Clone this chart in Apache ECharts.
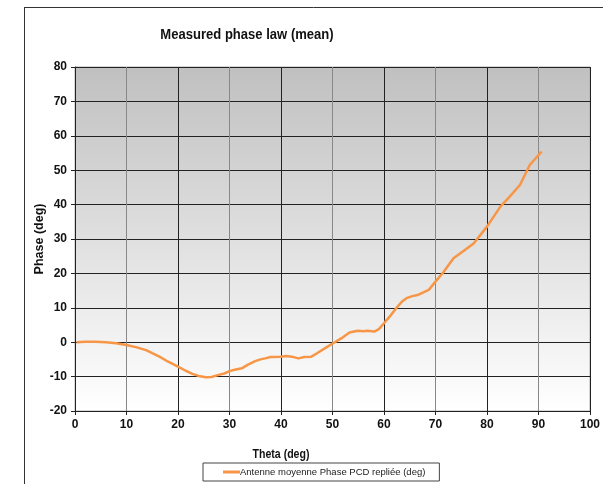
<!DOCTYPE html>
<html>
<head>
<meta charset="utf-8">
<script src="https://cdn.jsdelivr.net/npm/echarts@6/dist/echarts.min.js"></script>
<style>
  html, body { margin: 0; padding: 0; background: #ffffff; }
  #chart { width: 603px; height: 484px; }
</style>
</head>
<body>
<div id="chart"></div>
<script>
// Mean measured phase (deg) versus theta (deg)
const theta = [0.3, 2, 4, 6, 8, 10, 12, 13.8, 15, 16.4, 18, 20, 21.5, 22.8, 24, 25.4, 26.5, 27.9, 29, 30,
  31, 32.4, 33.5, 35, 36, 36.9, 38, 40, 41, 42.1, 43.4, 44.5, 45.9, 47, 48.5, 50.1, 51.7, 53.3, 54.9, 56,
  56.8, 58.1, 59, 60, 61.3, 62.6, 63.5, 64.5, 65.5, 66.5, 68.7, 70, 71.6, 73.5, 75.5, 77.4, 80, 82.6, 84.1,
  86.4, 88.3, 89.6, 90.6];
const phase = [0, 0.1, 0.1, 0, -0.3, -0.8, -1.5, -2.3, -3.2, -4.2, -5.6, -7.1, -8.3, -9.2, -9.8, -10.2, -10.1, -9.5, -9.1, -8.4,
  -8.0, -7.6, -6.6, -5.5, -5.0, -4.7, -4.3, -4.2, -4.0, -4.2, -4.7, -4.3, -4.2, -3.2, -1.8, -0.3, 1.1, 2.8, 3.3, 3.2,
  3.3, 3.1, 3.8, 5.5, 7.8, 10.3, 11.8, 12.9, 13.4, 13.7, 15.2, 17.6, 20.5, 24.4, 26.6, 28.7, 33.6, 39.4, 41.8,
  45.7, 51.5, 53.7, 55.4];
const seriesName = 'Antenne moyenne Phase PCD repliée (deg)';
const chartTitle = 'Measured phase law (mean)';
const xName = 'Theta (deg)';
const yName = 'Phase (deg)';

const points = theta.map((t, i) => [t, phase[i]]);
const sans = '"Liberation Sans", Arial, sans-serif';

const chart = echarts.init(document.getElementById('chart'), null, { renderer: 'canvas' });
chart.setOption({
  animation: false,
  backgroundColor: '#ffffff',
  graphic: [
    // chart-area frame (top and left edges)
    { type: 'line', shape: { x1: 24, y1: 7.5, x2: 603, y2: 7.5 }, style: { stroke: '#333', lineWidth: 1 } },
    { type: 'line', shape: { x1: 24.5, y1: 7, x2: 24.5, y2: 484 }, style: { stroke: '#333', lineWidth: 1 } },
    // title, slightly condensed
    {
      type: 'text', x: 247, y: 35, scaleX: 0.87, originX: 0, originY: 0,
      style: { text: chartTitle, font: 'bold 15px ' + sans, fill: '#111', align: 'center', verticalAlign: 'middle' }
    },
    // x axis title
    {
      type: 'text', x: 281, y: 455, scaleX: 0.88, originX: 0, originY: 0,
      style: { text: xName, font: 'bold 12px ' + sans, fill: '#111', align: 'center', verticalAlign: 'middle' }
    }
  ],
  grid: {
    left: 75, top: 67, width: 519, height: 344,
    show: true,
    borderColor: '#b0b0b0', borderWidth: 1,
    backgroundColor: {
      type: 'linear', x: 0, y: 0, x2: 0, y2: 1,
      colorStops: [{ offset: 0, color: '#c0c0c0' }, { offset: 1, color: '#ffffff' }]
    }
  },
  legend: {
    data: [seriesName],
    left: 203, top: 463,
    padding: [4, 14, 4, 20],
    borderColor: '#444', borderWidth: 1,
    itemWidth: 17, itemHeight: 3, itemGap: 0,
    icon: 'rect',
    textStyle: { fontFamily: sans, fontSize: 9.5, color: '#222', padding: [0, 0, 0, -5] }
  },
  xAxis: {
    type: 'value', min: 0, max: 100, interval: 10,
    axisLine: { show: true, onZero: false, lineStyle: { color: '#222', width: 1 } },
    axisTick: { show: true, length: 4, lineStyle: { color: '#222' } },
    axisLabel: { fontFamily: sans, fontWeight: 'bold', fontSize: 12, color: '#111', margin: 8 },
    splitLine: { show: true, lineStyle: { color: ['#222', '#888'], width: 1 } }
  },
  yAxis: {
    type: 'value', min: -20, max: 80, interval: 10,
    name: yName, nameLocation: 'middle', nameGap: 29, nameRotate: 90,
    nameMoveOverlap: false,
    nameTextStyle: { fontFamily: sans, fontWeight: 'bold', fontSize: 12.5, color: '#111' },
    axisLine: { show: true, onZero: false, lineStyle: { color: '#222', width: 1 } },
    axisTick: { show: true, length: 4, lineStyle: { color: '#222' } },
    axisLabel: { fontFamily: sans, fontWeight: 'bold', fontSize: 12, color: '#111', margin: 8 },
    splitLine: { show: true, lineStyle: { color: '#222', width: 1 } }
  },
  series: [{
    name: seriesName,
    type: 'line',
    data: points,
    showSymbol: false,
    symbol: 'none',
    smooth: false,
    lineStyle: { color: '#f79646', width: 2.5 },
    itemStyle: { color: '#f79646' }
  }]
});
</script>
</body>
</html>
